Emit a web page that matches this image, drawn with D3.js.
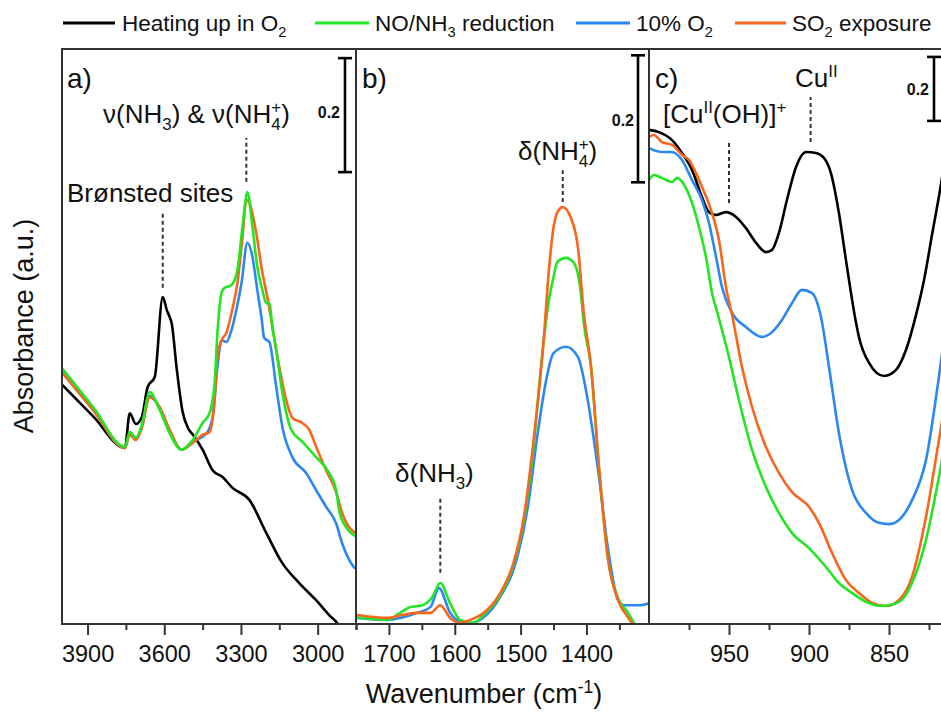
<!DOCTYPE html>
<html>
<head>
<meta charset="utf-8">
<script src="https://cdn.jsdelivr.net/npm/d3@7/dist/d3.min.js"></script>
<style>
  html, body { margin: 0; padding: 0; background: #fff; }
  svg { display: block; }
</style>
</head>
<body>
<svg id="chart" width="941" height="716"></svg>
<script>
// ---------------- DATA ----------------
const seriesNames = ["Heating up in O2", "NO/NH3 reduction", "10% O2", "SO2 exposure"];
const seriesColors = ["#000000", "#22e622", "#2b88f0", "#f8661c"];

// Panel a: 4000-2850 cm-1  [wavenumber, absorbance]
const a_heating = [[4000,0.418],[3877,0.362],[3754,0.307],[3735,0.368],[3711,0.349],[3688,0.361],[3665,0.414],[3637,0.432],[3606,0.572],[3590,0.549],[3579,0.537],[3571,0.526],[3552,0.449],[3528,0.370],[3505,0.340],[3489,0.331],[3450,0.304],[3411,0.268],[3372,0.256],[3333,0.237],[3267,0.216],[3201,0.158],[3138,0.105],[3072,0.070],[3006,0.040],[2955,0.014],[2924,0.0],[2908,-0.012]];
const a_reduction = [[4000,0.447],[3877,0.378],[3754,0.309],[3735,0.335],[3711,0.325],[3688,0.347],[3657,0.405],[3618,0.374],[3579,0.333],[3532,0.304],[3489,0.321],[3450,0.351],[3423,0.368],[3403,0.421],[3392,0.509],[3376,0.579],[3364,0.588],[3337,0.593],[3314,0.619],[3294,0.695],[3275,0.756],[3255,0.695],[3236,0.625],[3216,0.584],[3201,0.561],[3189,0.561],[3177,0.519],[3162,0.479],[3138,0.404],[3103,0.339],[3060,0.318],[3006,0.291],[2955,0.263],[2928,0.233],[2916,0.198],[2889,0.168],[2858,0.154],[2850,0.152]];
const a_oxygen = [[4000,0.440],[3877,0.373],[3754,0.307],[3735,0.332],[3711,0.323],[3688,0.344],[3657,0.398],[3618,0.377],[3579,0.337],[3532,0.304],[3489,0.318],[3434,0.333],[3411,0.361],[3392,0.449],[3376,0.496],[3357,0.493],[3337,0.514],[3318,0.549],[3298,0.596],[3275,0.667],[3255,0.642],[3236,0.584],[3220,0.537],[3209,0.500],[3189,0.493],[3162,0.414],[3138,0.344],[3099,0.291],[3045,0.263],[3006,0.233],[2967,0.204],[2928,0.175],[2904,0.140],[2877,0.111],[2858,0.098],[2850,0.096]];
const a_so2 = [[4000,0.440],[3877,0.373],[3754,0.307],[3735,0.330],[3711,0.321],[3688,0.342],[3657,0.396],[3618,0.379],[3579,0.339],[3532,0.304],[3489,0.316],[3450,0.330],[3423,0.335],[3403,0.391],[3392,0.467],[3376,0.496],[3357,0.509],[3337,0.544],[3314,0.596],[3294,0.677],[3279,0.742],[3267,0.737],[3240,0.684],[3216,0.614],[3197,0.572],[3177,0.519],[3150,0.449],[3123,0.391],[3099,0.360],[3060,0.351],[3033,0.339],[3006,0.309],[2967,0.268],[2928,0.230],[2904,0.193],[2877,0.168],[2858,0.160],[2850,0.158]];

// Panel b: 1750-1305 cm-1
const b_reduction = [[1750,0.009],[1703,0.005],[1683,0.016],[1668,0.025],[1649,0.028],[1634,0.041],[1622,0.063],[1607,0.031],[1592,0.005],[1572,0.0],[1556,0.013],[1531,0.044],[1511,0.091],[1495,0.162],[1480,0.280],[1468,0.414],[1457,0.509],[1451,0.540],[1444,0.569],[1431,0.575],[1419,0.567],[1409,0.524],[1404,0.472],[1393,0.403],[1381,0.246],[1367,0.099],[1352,0.039],[1337,0.016],[1328,0.0],[1317,-0.027],[1305,-0.05]];
const b_oxygen = [[1750,0.008],[1703,0.005],[1657,0.016],[1637,0.025],[1624,0.055],[1607,0.016],[1592,0.002],[1576,0.0],[1556,0.009],[1531,0.041],[1505,0.104],[1489,0.183],[1474,0.299],[1462,0.378],[1450,0.425],[1431,0.435],[1413,0.419],[1398,0.351],[1383,0.246],[1367,0.115],[1352,0.036],[1343,0.028],[1328,0.028],[1317,0.028],[1305,0.031]];
const b_so2 = [[1750,0.013],[1703,0.008],[1678,0.013],[1657,0.016],[1637,0.016],[1622,0.028],[1607,0.008],[1592,0.0],[1576,0.005],[1556,0.016],[1531,0.047],[1511,0.094],[1495,0.167],[1482,0.272],[1465,0.446],[1457,0.556],[1451,0.616],[1444,0.647],[1436,0.655],[1424,0.639],[1413,0.592],[1404,0.488],[1393,0.403],[1381,0.246],[1367,0.099],[1352,0.036],[1337,0.009],[1329,-0.003],[1317,-0.027],[1305,-0.05]];

// Panel c: 1000-800 cm-1
const c_heating = [[1000,1.541],[993.8,1.534],[985.6,1.509],[979.4,1.469],[973.1,1.416],[966.9,1.331],[962.5,1.284],[958.1,1.275],[951.9,1.284],[945.6,1.269],[939.4,1.234],[933.1,1.188],[926.9,1.159],[923.1,1.166],[918.8,1.219],[913.8,1.322],[908.1,1.425],[901.9,1.472],[895.6,1.469],[890.6,1.453],[886.3,1.406],[881.3,1.281],[876.9,1.134],[870.6,0.938],[868.8,0.894],[862.5,0.813],[853.1,0.772],[845.6,0.791],[839.4,0.853],[833.1,0.963],[828.1,1.072],[823.1,1.213],[818.1,1.353],[812.5,1.53]];
const c_reduction = [[1000,1.384],[997,1.400],[992,1.391],[985.6,1.378],[982.5,1.391],[976.9,1.359],[973.1,1.313],[968.8,1.238],[964.4,1.144],[960.6,1.031],[956.9,0.963],[950,0.831],[943.8,0.697],[935.6,0.541],[926.9,0.425],[918.8,0.344],[910.6,0.281],[900,0.234],[889.4,0.175],[881.3,0.125],[873.1,0.094],[864.4,0.066],[854.4,0.053],[843.8,0.066],[835.6,0.125],[826.9,0.259],[818.8,0.456],[812.5,0.63]];
const c_oxygen = [[1000,1.484],[992,1.472],[986,1.472],[979.4,1.447],[973.1,1.384],[966.9,1.322],[962.5,1.250],[958.1,1.144],[954.4,1.050],[948.1,0.969],[939.4,0.925],[929.4,0.894],[923.1,0.909],[916.9,0.947],[910.6,1.000],[904.4,1.041],[898.1,1.031],[892.5,0.956],[887.5,0.800],[881.3,0.594],[873.1,0.416],[864.4,0.344],[856.3,0.313],[850,0.309],[843.8,0.322],[835.6,0.384],[826.9,0.509],[818.8,0.769],[812.5,1.0]];
const c_so2 = [[1000,1.519],[997,1.525],[992,1.503],[985.6,1.494],[979.4,1.463],[975,1.447],[970.6,1.406],[966.9,1.363],[960.6,1.281],[956.3,1.197],[951.9,1.050],[948.1,0.963],[941.9,0.800],[935.6,0.675],[926.9,0.550],[918.8,0.469],[910.6,0.409],[900,0.363],[893.8,0.313],[885.6,0.219],[876.9,0.134],[868.8,0.094],[860.6,0.063],[851.9,0.053],[843.8,0.072],[835.6,0.144],[826.9,0.331],[818.8,0.572],[812.5,0.76]];

// Tick values
const a_major = [3900, 3600, 3300, 3000];
const a_minor = [3750, 3450, 3150, 2850];
const b_major = [1700, 1600, 1500, 1400];
const b_minor = [1750, 1650, 1550, 1450, 1350];
const c_major = [950, 900, 850];
const c_minor = [975, 925, 875, 825];

// Scale-bar (0.2 absorbance) base values per panel
const scaleBarSize = 0.2;
const a_barBase = 0.791, b_barBase = 0.694, c_barBase = 1.569;

// Annotation markers: [wavenumber, yFrom, yTo]
const a_markBronsted = [3606, 0.588, 0.719];
const a_markNH = [3279, 0.774, 0.851];
const b_markNH4 = [1436, 0.663, 0.713];
const b_markNH3 = [1622, 0.079, 0.197];
const c_markCuOH = [950, 1.3125, 1.503];
const c_markCu = [899, 1.503, 1.644];

// ---------------- LAYOUT ----------------
const FONT = "'Liberation Sans', Arial, Helvetica, sans-serif";
const svg = d3.select("#chart");
const TOP = 49, BOTTOM = 624, ZERO = 623;
const frameColor = "#333";

const panels = [
  { id: "a", x0: 62, x1: 356, domain: [4000, 2850], yMax: 1.0, yTop: 53,
    series: [a_heating, a_oxygen, a_so2, a_reduction], colorIdx: [0, 2, 3, 1],
    major: a_major, minor: a_minor, barBase: a_barBase, barX: 345 },
  { id: "b", x0: 356, x1: 649, domain: [1750, 1305], yMax: 0.9, yTop: 51.5,
    series: [b_oxygen, b_reduction, b_so2], colorIdx: [2, 1, 3],
    major: b_major, minor: b_minor, barBase: b_barBase, barX: 638 },
  { id: "c", x0: 649, x1: 969, domain: [1000, 800], yMax: 1.8, yTop: 47,
    series: [c_heating, c_oxygen, c_so2, c_reduction], colorIdx: [0, 2, 3, 1],
    major: c_major, minor: c_minor, barBase: c_barBase, barX: 934 }
];

const defs = svg.append("defs");

panels.forEach(p => {
  p.x = d3.scaleLinear().domain(p.domain).range([p.x0, p.x1]);
  p.y = d3.scaleLinear().domain([0, p.yMax]).range([ZERO, p.yTop]);

  defs.append("clipPath").attr("id", "clip-" + p.id)
    .append("rect").attr("x", p.x0).attr("y", TOP).attr("width", p.x1 - p.x0).attr("height", BOTTOM - TOP);

  const g = svg.append("g").attr("clip-path", `url(#clip-${p.id})`);
  const line = d3.line().x(d => p.x(d[0])).y(d => p.y(d[1])).curve(d3.curveMonotoneX);
  p.series.forEach((s, i) => {
    g.append("path").datum(s).attr("d", line)
      .attr("fill", "none").attr("stroke", seriesColors[p.colorIdx[i]])
      .attr("stroke-width", 2.6).attr("stroke-linejoin", "round");
  });

  // axes
  const axMaj = d3.axisBottom(p.x).tickValues(p.major).tickSize(11).tickPadding(10).tickFormat(d3.format("d"));
  const axMin = d3.axisBottom(p.x).tickValues(p.minor).tickSize(6).tickFormat("");
  const gMaj = svg.append("g").attr("transform", `translate(0,${BOTTOM})`).call(axMaj);
  const gMin = svg.append("g").attr("transform", `translate(0,${BOTTOM})`).call(axMin);
  [gMaj, gMin].forEach(ga => {
    ga.select(".domain").remove();
    ga.selectAll("line").attr("stroke", frameColor).attr("stroke-width", 2);
  });
  gMaj.selectAll("text").attr("font-family", FONT).attr("font-size", 23.5).attr("fill", "#111");

  // scale bar
  const yb0 = p.y(p.barBase), yb1 = p.y(p.barBase + scaleBarSize);
  const bar = svg.append("g").attr("stroke", "#000").attr("stroke-width", 2.6);
  bar.append("line").attr("x1", p.barX).attr("x2", p.barX).attr("y1", yb0).attr("y2", yb1);
  bar.append("line").attr("x1", p.barX - 7).attr("x2", p.barX + 7).attr("y1", yb0).attr("y2", yb0);
  bar.append("line").attr("x1", p.barX - 7).attr("x2", p.barX + 7).attr("y1", yb1).attr("y2", yb1);
});

// frames
panels.forEach(p => {
  svg.append("rect").attr("x", p.x0).attr("y", TOP).attr("width", p.x1 - p.x0).attr("height", BOTTOM - TOP)
    .attr("fill", "none").attr("stroke", frameColor).attr("stroke-width", 2);
});

// dashed markers
function mark(p, m) {
  svg.append("line").attr("x1", p.x(m[0])).attr("x2", p.x(m[0]))
    .attr("y1", p.y(m[1])).attr("y2", p.y(m[2]))
    .attr("stroke", "#333").attr("stroke-width", 2).attr("stroke-dasharray", "4,3");
}
mark(panels[0], a_markBronsted);
mark(panels[0], a_markNH);
mark(panels[1], b_markNH4);
mark(panels[1], b_markNH3);
mark(panels[2], c_markCuOH);
mark(panels[2], c_markCu);

// text helper
function rich(x, y, parts, size, opts = {}) {
  const t = svg.append("text").attr("x", x).attr("y", y)
    .attr("font-family", FONT).attr("font-size", size).attr("fill", "#111");
  if (opts.anchor) t.attr("text-anchor", opts.anchor);
  if (opts.weight) t.attr("font-weight", opts.weight);
  if (opts.transform) t.attr("transform", opts.transform);
  let shift = 0;
  const small = size * 0.65;
  parts.forEach(([s, kind]) => {
    const ts = t.append("tspan").text(s);
    if (kind === "sub") {
      ts.attr("font-size", small).attr("dy", size * 0.28 - shift); shift = size * 0.28;
    } else if (kind === "sup") {
      ts.attr("font-size", small).attr("dy", -size * 0.38 - shift); shift = -size * 0.38;
    } else {
      if (shift !== 0) ts.attr("dy", -shift);
      shift = 0;
    }
  });
  return t;
}
// sub "4" with "+" stacked above it, then closing text back on baseline
function stacked(t, size, sub, sup, tail) {
  const small = size * 0.65;
  const subW = small * 0.556;
  t.append("tspan").text(sub).attr("font-size", small).attr("dy", size * 0.28);
  t.append("tspan").text(sup).attr("font-size", small).attr("dx", -subW).attr("dy", -size * 0.68);
  t.append("tspan").text(tail).attr("dy", size * 0.40);
}

// legend
const legendItems = [
  { x0: 63, x1: 115, tx: 122, parts: [["Heating up in O", "n"], ["2", "sub"]] },
  { x0: 315, x1: 369, tx: 375, parts: [["NO/NH", "n"], ["3", "sub"], [" reduction", "n"]] },
  { x0: 576, x1: 630, tx: 636, parts: [["10% O", "n"], ["2", "sub"]] },
  { x0: 735, x1: 786, tx: 792, parts: [["SO", "n"], ["2", "sub"], [" exposure", "n"]] }
];
legendItems.forEach((it, i) => {
  svg.append("line").attr("x1", it.x0).attr("x2", it.x1).attr("y1", 23).attr("y2", 23)
    .attr("stroke", seriesColors[i]).attr("stroke-width", 3);
  rich(it.tx, 31, it.parts, 22.5);
});

// panel labels
rich(67, 88, [["a)", "n"]], 28);
rich(362, 88, [["b)", "n"]], 28);
rich(655, 88, [["c)", "n"]], 28);

// annotations
{
  const t = rich(103, 123, [["\u03BD(NH", "n"], ["3", "sub"], [") & \u03BD(NH", "n"]], 26);
  stacked(t, 26, "4", "+", ")");
}
rich(67, 202, [["Br\u00F8nsted sites", "n"]], 26);
{
  const t = rich(518, 160, [["\u03B4(NH", "n"]], 26);
  stacked(t, 26, "4", "+", ")");
}
rich(395, 482, [["\u03B4(NH", "n"], ["3", "sub"], [")", "n"]], 26);
rich(663, 123, [["[Cu", "n"], ["II", "sup"], ["(OH)]", "n"], ["+", "sup"]], 26);
rich(795, 87, [["Cu", "n"], ["II", "sup"]], 26);

// 0.2 labels
rich(340, 118, [["0.2", "n"]], 16, { anchor: "end", weight: "bold" });
rich(634, 126, [["0.2", "n"]], 16, { anchor: "end", weight: "bold" });
rich(929, 95, [["0.2", "n"]], 16, { anchor: "end", weight: "bold" });

// axis titles
rich(484, 703, [["Wavenumber (cm", "n"], ["-1", "sup"], [")", "n"]], 27, { anchor: "middle" });
rich(0, 0, [["Absorbance (a.u.)", "n"]], 27, { anchor: "middle", transform: "translate(33,326) rotate(-90)" });
</script>
</body>
</html>
